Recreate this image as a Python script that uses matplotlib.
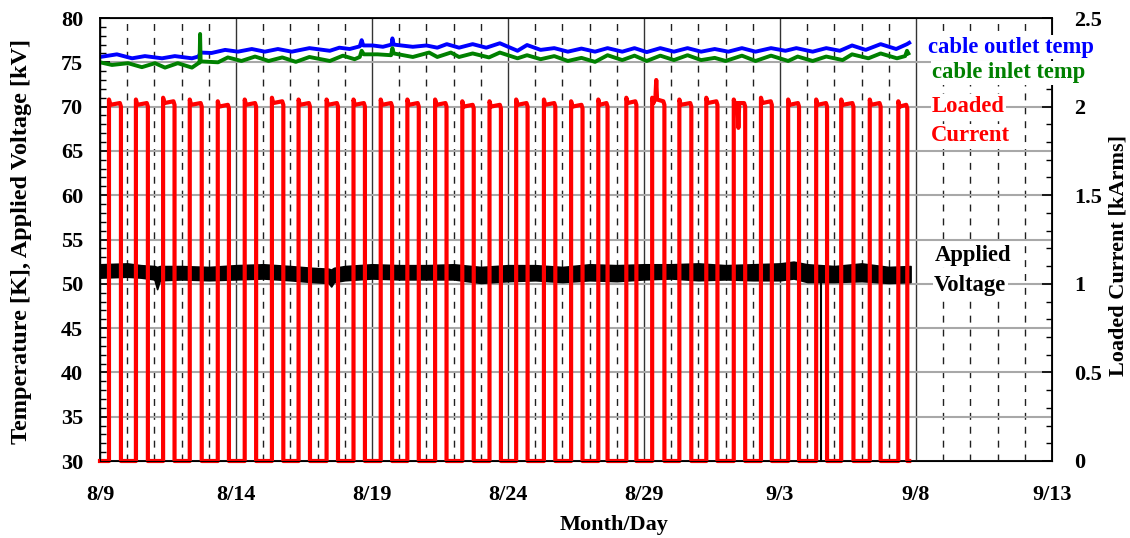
import numpy as np
import matplotlib.pyplot as plt
from matplotlib.ticker import MultipleLocator, FuncFormatter

plt.rcParams['font.family'] = ['Liberation Serif', 'DejaVu Serif']
plt.rcParams['font.weight'] = 'bold'

# x axis = days after 8/9
date_labels = ['8/9', '8/14', '8/19', '8/24', '8/29', '9/3', '9/8', '9/13']

# cable outlet temperature [K]
t_out = [0.0, 0.62, 1.18, 1.65, 2.28, 2.75, 3.38, 3.62, 3.70, 4.10, 4.60, 5.07, 5.58,
         6.06, 6.54, 7.05, 7.70, 8.45, 8.80, 9.18, 9.55, 9.62, 9.68, 10.03, 10.40,
         10.72, 10.75, 10.80, 11.50, 12.00, 12.40, 12.75, 13.20, 13.70, 14.20, 14.70,
         15.35, 15.70, 16.20, 16.70, 17.20, 17.70, 18.20, 18.66, 19.20, 19.65, 20.10,
         20.60, 21.10, 21.60, 22.10, 22.60, 23.10, 23.60, 24.10, 24.67, 25.20, 25.60,
         26.20, 26.70, 27.20, 27.65, 28.15, 28.70, 29.27, 29.67, 29.75]
outlet = [75.6, 75.9, 75.45, 75.7, 75.45, 75.7, 75.45, 75.65, 76.1, 76.05, 76.4, 76.2, 76.5,
          76.2, 76.5, 76.2, 76.6, 76.3, 76.65, 76.5, 76.8, 77.5, 76.9, 76.9, 76.75,
          77.0, 77.7, 77.0, 76.75, 76.9, 76.65, 77.05, 76.65, 77.05, 76.65, 77.15,
          76.3, 76.95, 76.4, 76.6, 76.2, 76.55, 76.2, 76.6, 76.2, 76.6, 76.15,
          76.6, 76.2, 76.6, 76.2, 76.5, 76.2, 76.6, 76.2, 76.6, 76.3, 76.6,
          76.2, 76.6, 76.3, 76.9, 76.4, 77.05, 76.5, 77.05, 77.2]

# cable inlet temperature [K]
t_in = [0.0, 0.44, 1.03, 1.54, 2.02, 2.39, 2.86, 3.38, 3.62, 3.66, 3.68, 3.70, 4.34, 4.70,
        5.20, 5.70, 6.20, 6.70, 7.20, 7.70, 8.45, 8.93, 9.36, 9.55, 9.62, 9.70, 10.20,
        10.70, 10.75, 10.80, 11.50, 12.10, 12.40, 12.90, 13.20, 13.70, 14.30, 14.70,
        15.35, 15.70, 16.20, 16.70, 17.20, 17.70, 18.20, 18.66, 19.20, 19.65, 20.10,
        20.60, 21.10, 21.60, 22.10, 22.60, 23.00, 23.60, 24.10, 24.67, 25.30, 25.65,
        26.20, 26.70, 27.30, 27.65, 28.25, 28.70, 29.30, 29.60, 29.67, 29.72]
inlet = [75.0, 74.7, 74.9, 74.45, 74.9, 74.4, 74.9, 74.4, 74.9, 74.95, 78.2, 75.1, 75.0, 75.55,
         75.15, 75.65, 75.15, 75.55, 75.05, 75.6, 75.15, 75.75, 75.35, 75.6, 76.3, 75.9, 75.9,
         75.8, 76.6, 76.0, 75.6, 76.1, 75.6, 76.1, 75.6, 76.0, 75.55, 76.1,
         75.45, 75.8, 75.35, 75.7, 75.15, 75.5, 75.05, 75.8, 75.25, 75.75, 75.15,
         75.75, 75.25, 75.8, 75.25, 75.5, 75.15, 75.75, 75.15, 75.75, 75.15, 75.65,
         75.15, 75.65, 75.25, 75.9, 75.45, 76.0, 75.45, 75.7, 76.3, 76.0]

# applied voltage [kV], band of noisy readings (upper / lower envelope)
v_t = [0, 1, 1.5, 2.0, 2.1, 2.2, 3, 4, 5, 6, 7, 7.8, 8.4, 8.5, 8.6, 9, 10, 11, 12, 13, 14,
       15, 16, 17, 18, 19, 20, 21, 22, 23, 24, 25, 25.5, 26, 27, 28, 29, 29.8]
v_hi = [52.2, 52.3, 52.1, 52.0, 51.9, 52.0, 52.0, 51.9, 52.1, 52.2, 52.0, 51.8, 51.7, 51.6,
        51.8, 52.0, 52.2, 52.1, 52.1, 52.2, 51.9, 52.1, 52.1, 51.9, 52.2, 52.1, 52.2, 52.2,
        52.3, 52.1, 52.2, 52.3, 52.5, 52.2, 52.0, 52.3, 51.9, 52.0]
v_lo = [50.7, 50.8, 50.7, 50.5, 49.4, 50.4, 50.5, 50.4, 50.5, 50.6, 50.4, 50.2, 50.1, 49.7,
        50.2, 50.4, 50.6, 50.5, 50.5, 50.5, 50.1, 50.3, 50.4, 50.2, 50.4, 50.3, 50.5, 50.6,
        50.4, 50.5, 50.4, 50.4, 50.6, 50.2, 50.2, 50.3, 50.1, 50.2]
v_drop_t = [1.36, 18.66, 26.5]

# loaded current [kArms], one daily load pulse
cur_on = [0.33, 1.32, 2.32, 3.30, 4.33, 5.32, 6.32, 7.30, 8.33, 9.32, 10.32, 11.30, 12.32,
          13.32, 14.32, 15.30, 16.32, 17.32, 18.32, 19.35, 20.30, 21.30, 22.29, 23.30,
          24.30, 25.30, 26.33, 27.25, 28.30, 29.35]
cur_off = [0.77, 1.76, 2.74, 3.74, 4.74, 5.74, 6.74, 7.72, 8.75, 9.74, 10.74, 11.72, 12.74,
           13.74, 14.74, 15.72, 16.74, 17.74, 18.66, 19.72, 20.75, 21.74, 22.70, 23.72,
           24.70, 25.70, 26.73, 27.70, 28.70, 29.68]
cur_peak = [2.04, 2.04, 2.05, 2.04, 2.03, 2.04, 2.05, 2.04, 2.04, 2.04, 2.04, 2.04, 2.04,
            2.03, 2.03, 2.04, 2.04, 2.03, 2.04, 2.05, 2.05, 2.04, 2.05, 2.04,
            2.05, 2.04, 2.04, 2.04, 2.04, 2.03]
cur_extra_t = [20.42, 20.45, 20.48, 23.44, 23.47, 23.50]
cur_extra_v = [2.05, 2.15, 2.04, 2.02, 1.88, 2.02]


def current_trace():
    t = [0.0]
    v = [0.0]
    for on, off, pk in zip(cur_on, cur_off, cur_peak):
        t += [on, on, on + 0.05, off - 0.04, off, off]
        v += [0.0, pk, pk - 0.03, pk - 0.02, pk - 0.04, 0.0]
    t += cur_extra_t + [29.75]
    v += cur_extra_v + [0.0]
    order = np.argsort(t, kind='stable')
    return np.array(t)[order], np.array(v)[order]


W, H = 1130, 538
fig = plt.figure(figsize=(W / 100, H / 100), dpi=100)
ax = fig.add_axes([100 / W, 1 - 461 / H, 952 / W, 443 / H])
ax.set_xlim(0, 35)
ax.set_ylim(30, 80)
ax.set_axisbelow(True)

ax.xaxis.set_major_locator(MultipleLocator(5))
ax.xaxis.set_minor_locator(MultipleLocator(1))
ax.set_xticks(np.arange(0, 36, 5))
ax.set_xticklabels(date_labels)
ax.yaxis.set_major_locator(MultipleLocator(5))
ax.yaxis.set_minor_locator(MultipleLocator(1))

ax.grid(axis='y', which='major', color='#a8a8a8', lw=1.5)
ax.grid(axis='x', which='major', color='#333333', lw=1.0)
ax.grid(axis='x', which='minor', color='#202020', lw=1.0, linestyle=(0, (5, 5)))

ax.tick_params(axis='x', which='both', length=0, pad=17, labelsize=16)
ax.tick_params(axis='y', which='major', direction='in', length=7, width=1.2, pad=12,
               labelsize=16, right=False)
ax.tick_params(axis='y', which='minor', direction='in', length=4, width=1.0, right=False)
for s in ax.spines.values():
    s.set_linewidth(1.3)

# applied voltage
ax.fill_between(v_t, v_lo, v_hi, color='black', lw=1.2)
ax.vlines(v_drop_t, 30, 51, color='black', lw=1.5)

# cable temperatures
ax.plot(t_out, outlet, color='#0000ff', lw=2.8)
ax.plot(t_in, inlet, color='#008000', lw=2.8)

# loaded current on right axis
ax2 = ax.twinx()
ax2.set_ylim(0, 2.5)
ax2.yaxis.set_major_locator(MultipleLocator(0.5))
ax2.yaxis.set_minor_locator(MultipleLocator(0.1))
ax2.yaxis.set_major_formatter(FuncFormatter(lambda v, p: '%g' % v))
ax2.tick_params(axis='y', which='major', direction='in', length=7, width=1.2, pad=16,
                labelsize=16)
ax2.tick_params(axis='y', which='minor', direction='in', length=4, width=1.0)
ct, cv = current_trace()
ax2.plot(ct, cv, color='#ff0000', lw=3.0, clip_on=False)

# axis titles
fig.text(22 / W, 1 - 242 / H, 'Temperature [K], Applied Voltage [kV]', rotation=90,
         ha='center', va='center', fontsize=17.5)
fig.text(1119 / W, 1 - 256 / H, 'Loaded Current [kArms]', rotation=90,
         ha='center', va='center', fontsize=16)
fig.text(614 / W, 1 - 525 / H, 'Month/Day', ha='center', va='center', fontsize=16)

# series labels
box = dict(facecolor='white', edgecolor='none', pad=1)
fig.text(928 / W, 1 - 47 / H, 'cable outlet temp', color='#0000ff', fontsize=16.3,
         va='center', bbox=box)
fig.text(932 / W, 1 - 73 / H, 'cable inlet temp', color='#008000', fontsize=16.3,
         va='center', bbox=box)
fig.text(932 / W, 1 - 106 / H, 'Loaded', color='#ff0000', fontsize=16.3, va='center', bbox=box)
fig.text(931 / W, 1 - 136 / H, 'Current', color='#ff0000', fontsize=16.3, va='center', bbox=box)
fig.text(935 / W, 1 - 255 / H, 'Applied', color='black', fontsize=16.3, va='center', bbox=box)
fig.text(934 / W, 1 - 286 / H, 'Voltage', color='black', fontsize=16.3, va='center', bbox=box)

fig.savefig('out.png', dpi=100)
